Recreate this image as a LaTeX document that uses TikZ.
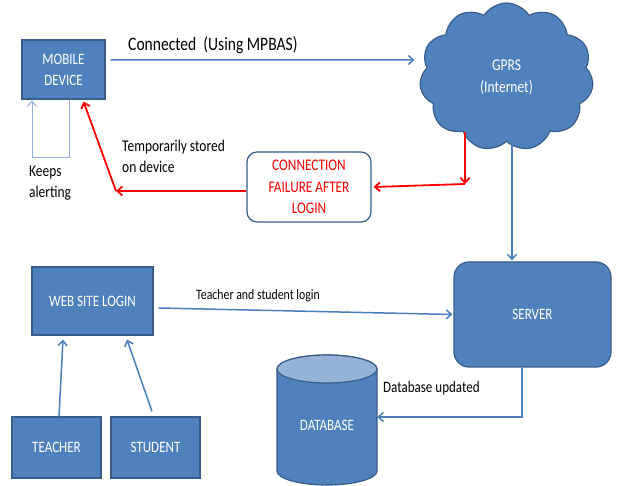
\documentclass[tikz,border=0pt]{standalone}
\usepackage{fontspec}
\setmainfont[FakeStretch=0.82]{Carlito}
\usetikzlibrary{shapes.symbols,arrows.meta,calc}
\definecolor{boxfill}{HTML}{4F81BD}
\definecolor{boxline}{HTML}{385D8A}
\definecolor{arrowblue}{HTML}{4A7EBB}
\definecolor{lightarrow}{HTML}{8EB0DC}
\definecolor{dbtop}{HTML}{95B3D7}
\begin{document}
\begin{tikzpicture}[x=1pt,y=-1pt,
  box/.style={draw=boxline, fill=boxfill, line width=1.2pt, text=white, align=center,
    font=\fontsize{15.9}{21}\selectfont, inner sep=0pt},
  tip/.style={-{Straight Barb[length=5pt,width=9pt]}},
  bluearrow/.style={draw=arrowblue, line width=1.5pt, tip},
  redarrow/.style={draw=red, line width=1.8pt, tip},
  thinarrow/.style={draw=lightarrow, line width=1pt, tip},
  lbl/.style={font=\fontsize{16.4}{21}\selectfont, align=left, inner sep=0pt, anchor=west}]
\useasboundingbox (0,0) rectangle (619,486);

% nodes
\node[box, minimum width=83, minimum height=59] (mob) at (63.5,69.5) {MOBILE\\DEVICE};
\node[cloud, cloud puffs=11, cloud puff arc=115, aspect=1.2, draw=boxline, fill=boxfill,
  line width=1.2pt, text=white, align=center, font=\fontsize{16.5}{22}\selectfont,
  minimum width=174, minimum height=148, inner sep=0pt] (cloud) at (506.5,77) {GPRS\\(Internet)};
\node[draw=boxline, fill=white, line width=1.2pt, rounded corners=10pt, text=red, align=center,
  font=\fontsize{16.2}{21.5}\selectfont, minimum width=124, minimum height=70, inner sep=0pt]
  (fail) at (309,187) {CONNECTION\\FAILURE AFTER\\LOGIN};
\node[box, rounded corners=15pt, minimum width=157, minimum height=105] (srv) at (532.5,314.5) {SERVER};
\node[box, minimum width=121, minimum height=68] (web) at (92.5,301) {WEB SITE LOGIN};
\node[box, minimum width=89, minimum height=61] (teach) at (56.5,447.5) {TEACHER};
\node[box, minimum width=89, minimum height=61] (stud) at (155.5,447.5) {STUDENT};

% database cylinder
\fill[boxfill, draw=boxline, line width=1.2pt]
  (277,369) -- (277,471) arc[start angle=180, end angle=360, x radius=50pt, y radius=14pt]
  -- (377,369) arc[start angle=0, end angle=180, x radius=50pt, y radius=14pt] -- cycle;
\fill[dbtop, draw=boxline, line width=1.2pt] (327,369) ellipse[x radius=50pt, y radius=14pt];
\node[text=white, font=\fontsize{15.9}{18}\selectfont, minimum width=100, inner sep=0pt] (db) at (327,425) {DATABASE};

% labels
\node[lbl, font=\fontsize{19}{22}\selectfont] (lconn) at (128,45) {Connected\ \ (Using MPBAS)};
\node[lbl] (ltemp) at (122,156.5) {Temporarily stored\\on device};
\node[lbl] (lkeep) at (29,183) {Keeps\\alerting};
\node[lbl, font=\fontsize{14.4}{16}\selectfont] (llogin) at (196,296) {Teacher and student login};
\node[lbl, font=\fontsize{15.9}{18}\selectfont] (lupd) at (383,388) {Database updated};

% connectors
\coordinate (mobout) at ($(mob.east)+(5,-9.5)$);
\coordinate (cloudin) at ($(cloud.west)+(-6,-17)$);
\draw[bluearrow] (mobout) -- (cloudin);

\draw[thinarrow] ($(mob.south)+(5.5,0)$) -- ++(0,58) -| ($(mob.south)+(-31.5,1)$);

\coordinate (gprsout) at (465,132);
\coordinate (cr) at (465,184);
\draw[redarrow] (gprsout) -- (cr);
\draw[redarrow] (cr) -- ($(fail.east)+(2,0)$);
\coordinate (rc) at (116,191);
\draw[redarrow] (fail.west |- rc) -- (rc);
\draw[redarrow] (rc) -- ($(mob.south)+(20,2)$);

\coordinate (srvin) at ($(srv.north)+(-20.5,-1)$);
\draw[bluearrow] (cloud.south -| srvin) -- (srvin);

\draw[bluearrow] ($(web.east)+(5,7)$) -- ($(srv.west)+(-1,0)$);
\draw[bluearrow] ($(teach.north)+(2.5,0)$) -- ($(web.south)+(-29.5,4)$);
\draw[bluearrow] ($(stud.north)+(-3.5,-5)$) -- ($(web.south)+(34.5,4)$);

\coordinate (srvout) at ($(srv.south)+(-10.5,0)$);
\draw[bluearrow] (srvout) |- ($(db.east)+(0,-8)$);
\end{tikzpicture}
\end{document}
